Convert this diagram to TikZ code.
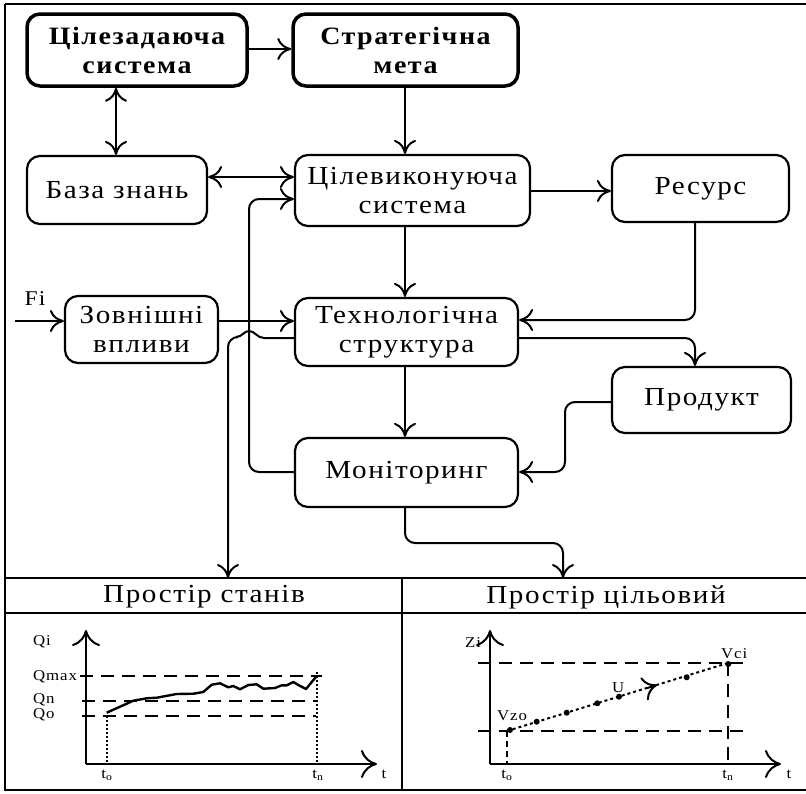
\documentclass[tikz,border=0pt]{standalone}
\usepackage{fontspec}
\setmainfont{Liberation Serif}[FakeStretch=1.12, LetterSpace=6]
\usetikzlibrary{arrows.meta}
\begin{document}
\begin{tikzpicture}[x=1pt,y=-1pt,
  blk/.style={draw, line width=2.2pt, rounded corners=13pt, align=center, inner sep=0pt,
    font=\fontsize{26}{29}\selectfont},
  goalblk/.style={blk, line width=3.5pt, font=\fontsize{25}{29}\selectfont\bfseries},
  flow/.style={line width=2pt, rounded corners=10pt,
    -{Computer Modern Rightarrow[length=14pt,width=22pt,line width=2pt]}},
  bothflow/.style={flow,
    {Computer Modern Rightarrow[length=14pt,width=22pt,line width=2pt]}-{Computer Modern Rightarrow[length=14pt,width=22pt,line width=2pt]}},
  axis/.style={line width=2pt, -{Computer Modern Rightarrow[length=16pt,width=28pt,line width=2pt]}},
  frameline/.style={line width=2.5pt},
  head/.style={font=\fontsize{26}{28}\selectfont},
  lbl/.style={font=\fontsize{15}{17}\selectfont, inner sep=0pt},
  level/.style={line width=2pt, dash pattern=on 13pt off 8pt},
  dotline/.style={line width=1.6pt, dash pattern=on 2pt off 2pt},
  pt/.style={circle, fill, inner sep=0pt, minimum size=6pt}
]
\useasboundingbox (0,0) rectangle (806,793);
\fill[white] (0,0) rectangle (806,793);

% outer frame and the two state-space panels
\draw[frameline] (5,4) -- (809,4);
\draw[frameline] (5,4) -- (5,790) -- (809,790);
\draw[frameline] (5,578) -- (809,578);
\draw[frameline] (5,613) -- (809,613);
\draw[frameline] (402,578) -- (402,790);
\node[head] (hs) at (204,597) {Простір станів};
\node[head] (hg) at (606,597) {Простір цільовий};

% blocks
\node[goalblk, minimum width=220pt, minimum height=72pt] (ciliz) at (137,50) {Цілезадаюча\\система};
\node[goalblk, minimum width=225pt, minimum height=72pt] (strat) at (405.5,50) {Стратегічна\\мета};
\node[blk, minimum width=180pt, minimum height=68pt] (baza) at (117,190) {База знань};
\node[blk, minimum width=235pt, minimum height=71pt] (cilvyk) at (412.5,190.5) {Цілевиконуюча\\система};
\node[blk, minimum width=177pt, minimum height=67pt] (resurs) at (700.5,188.5) {Ресурс};
\node[blk, minimum width=153pt, minimum height=67pt] (zovn) at (141.5,329.5) {Зовнішні\\впливи};
\node[blk, minimum width=223pt, minimum height=68pt] (tech) at (406.5,332) {Технологічна\\структура};
\node[blk, minimum width=179pt, minimum height=66pt] (prod) at (701.5,400) {Продукт};
\node[blk, minimum width=223pt, minimum height=69pt] (mon) at (406.5,472.5) {Моніторинг};

% free ends of connectors
\coordinate (fi) at (15,321);
\coordinate (sdrop) at (228,578);
\coordinate (gdrop) at (563,578);
\node[font=\fontsize{21}{24}\selectfont, inner sep=0pt] (filbl) at (35,299) {Fi};

% connectors
\draw[flow] (ciliz.east |- 0,49) -- (strat.west |- 0,49);
\draw[bothflow] (116,0 |- ciliz.south) -- (116,0 |- baza.north);
\draw[bothflow] (baza.east |- 0,177) -- (cilvyk.west |- 0,177);
\draw[flow] (405,0 |- strat.south) -- (405,0 |- cilvyk.north);
\draw[flow] (cilvyk.east |- 0,191) -- (resurs.west |- 0,191);
\draw[flow] (405,0 |- cilvyk.south) -- (405,0 |- tech.north);
\draw[flow] (695,0 |- resurs.south) -- (695,320) -- (tech.east |- 0,320);
\draw[flow] (tech.east |- 0,338) -- (695,338) -- (695,0 |- prod.north);
\draw[flow] (405,0 |- tech.south) -- (405,0 |- mon.north);
\draw[flow] (prod.west |- 0,402) -- (565,402) -- (565,472) -- (mon.east |- 0,472);
\draw[flow] (405,0 |- mon.south) -- (405,543) -- (563,543) -- (gdrop);
\draw[flow] (mon.west |- 0,472) -- (249,472) -- (249,199) -- (cilvyk.west |- 0,199);
\draw[flow] (fi) -- (zovn.west |- 0,321);
\draw[flow] (zovn.east |- 0,321) -- (tech.west |- 0,321);
\draw[line width=2pt] (tech.west |- 0,338) -- (264,338)
  .. controls (257,338) and (255,331) .. (249,331)
  .. controls (244,331) and (242,337) .. (236,337);
\draw[flow] (236,337) -- (228,337) -- (sdrop);

% state space chart
\draw[axis] (86,764) -- (86,630);
\draw[axis] (86,764) -- (377,764);
\draw[level] (80,676) -- (322,676);
\draw[level] (82,701) -- (316,701);
\draw[level] (82,716) -- (316,716);
\draw[dotline] (107,716) -- (107,764);
\draw[dotline] (317,672) -- (317,764);
\draw[line width=2.4pt, line join=round] (106.7,712.7) -- (133.3,700.7) -- (146.7,698.3) -- (156.7,697.7)
  -- (176.7,694) -- (193.3,693.7) -- (203.3,692) -- (211.7,684.7) -- (220,683.3)
  -- (228.3,687.3) -- (233.3,686) -- (240,689.3) -- (248.3,685) -- (256.7,684.3)
  -- (263.3,688.7) -- (275,688) -- (281.7,685.3) -- (286.7,685.3) -- (293.3,682)
  -- (298.3,685) -- (306,689) -- (316.7,676);
\node[lbl, anchor=base west] (qi) at (33,645) {Qi};
\node[lbl, anchor=base west] (qmax) at (33,680) {Qmax};
\node[lbl, anchor=base west] (qn) at (33,703) {Qn};
\node[lbl, anchor=base west] (qo) at (33,718) {Qo};
\node[lbl, anchor=base] (t0a) at (107,778) {t\textsubscript{o}};
\node[lbl, anchor=base] (tna) at (318,778) {t\textsubscript{n}};
\node[lbl, anchor=base] (ta) at (384,778) {t};

% goal space chart
\draw[axis] (490,764) -- (490,630);
\draw[axis] (490,764) -- (781,764);
\draw[level] (478,663) -- (748,663);
\draw[level] (478,731) -- (748,731);
\draw[line width=2.6pt, dash pattern=on 13pt off 8pt] (728,663) -- (728,764);
\draw[line width=1.6pt, dash pattern=on 6pt off 4pt] (507,731) -- (507,764);
\draw[line width=2pt, dash pattern=on 3pt off 3pt] (507,731) -- (728,663);
\foreach \px/\py in {510/730, 536.7/721.7, 566.7/712.7, 597.3/703.3, 619/696.7, 686.7/677.3, 728.3/664}
  \node[pt] at (\px,\py) {};
\draw[line width=2pt, -{Computer Modern Rightarrow[length=14pt,width=24pt,line width=2pt]}] (647,688.1) -- (657,685);
\node[lbl, anchor=base west] (zi) at (465,647) {Zi};
\node[lbl, anchor=base west] (vzo) at (497,720) {Vzo};
\node[lbl, anchor=base west] (u) at (612,692) {U};
\node[lbl, anchor=base west] (vci) at (721,658) {Vci};
\node[lbl, anchor=base] (t0b) at (507,778) {t\textsubscript{o}};
\node[lbl, anchor=base] (tnb) at (728,778) {t\textsubscript{n}};
\node[lbl, anchor=base] (tb) at (789,778) {t};
\end{tikzpicture}
\end{document}
